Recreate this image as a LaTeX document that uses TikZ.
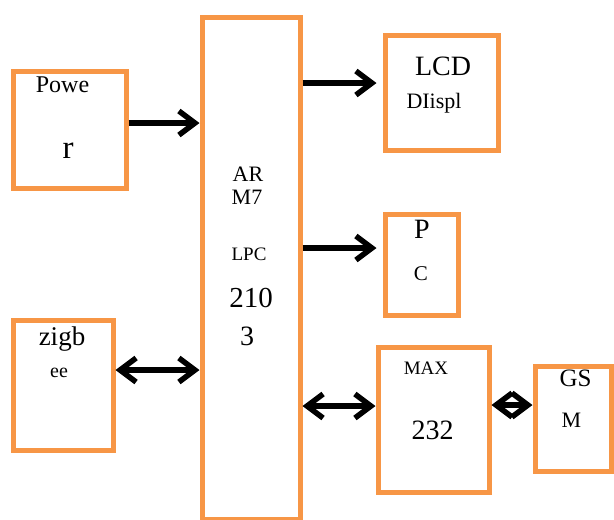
\documentclass[tikz,border=0pt]{standalone}
\usepackage{fontspec}
\setmainfont{Liberation Serif}
\usepackage{tikz}
\usetikzlibrary{arrows.meta, positioning, calc}
\definecolor{boxorange}{HTML}{F79646}
\newcommand{\fs}[1]{\fontsize{#1}{#1}\selectfont}

\begin{document}
\begin{tikzpicture}[
    x=1pt, y=-1pt,
    block/.style={rectangle, draw=boxorange, line width=5pt, inner sep=0pt},
    lbl/.style={anchor=base, inner sep=0pt},
    barb/.tip={Straight Barb[length=16pt, width=24pt]},
    arrow/.style={-barb, line width=5.5pt},
    darrow/.style={barb-barb, line width=5.5pt},
]
\useasboundingbox (0,0) rectangle (614,520);

\node[block, minimum width=113pt, minimum height=117pt] (power) at (69.5,129.5) {};
\node[block, minimum width=98pt, minimum height=502pt] (arm) at (251,268) {};
\node[block, minimum width=113pt, minimum height=115pt] (lcd) at (441.5,92.5) {};
\node[block, minimum width=73pt, minimum height=101pt] (pc) at (421.5,264.5) {};
\node[block, minimum width=100pt, minimum height=130pt] (zigbee) at (63,385) {};
\node[block, minimum width=111pt, minimum height=145pt] (max) at (433.5,419.5) {};
\node[block, minimum width=76pt, minimum height=105pt] (gsm) at (573,418.5) {};

\node[lbl, font=\fs{24}] (powe) at (62.5,92) {Powe};
\node[lbl, font=\fs{33}] (powr) at (68,158) {r};
\node[lbl, font=\fs{28}] (lcdtop) at (443,75) {LCD};
\node[lbl, font=\fs{22}] (lcdbot) at (434,108) {DIispl};
\node[lbl, font=\fs{22}] (arma) at (248,181) {AR};
\node[lbl, font=\fs{22}] (armb) at (247,204) {M7};
\node[lbl, font=\fs{19}] (armc) at (249,260) {LPC};
\node[lbl, font=\fs{29}] (armd) at (251,307) {210};
\node[lbl, font=\fs{28}] (arme) at (247,345) {3};
\node[lbl, font=\fs{28}] (pctop) at (422,238) {P};
\node[lbl, font=\fs{21}] (pcbot) at (421,280) {C};
\node[lbl, font=\fs{27}] (zigtop) at (62,345) {zigb};
\node[lbl, font=\fs{20}] (zigbot) at (59,377) {ee};
\node[lbl, font=\fs{19}] (maxtop) at (426,374) {MAX};
\node[lbl, font=\fs{28}] (maxbot) at (432.5,439) {232};
\node[lbl, font=\fs{25}] (gsmtop) at (575.5,386) {GS};
\node[lbl, font=\fs{22}] (gsmbot) at (571.5,427) {M};

\coordinate (pw) at ([yshift=6.5pt]power.east);
\coordinate (ld) at ([yshift=9.5pt]lcd.west);
\coordinate (pcin) at ([yshift=16.5pt]pc.west);
\coordinate (zb) at ([yshift=15pt]zigbee.east);
\coordinate (mx) at ([yshift=13.5pt]max.west);
\coordinate (gs) at ([yshift=14.5pt]max.east);

\draw[arrow] (pw) -- (pw -| arm.west);
\draw[arrow, shorten >=6pt] (ld -| arm.east) -- (ld);
\draw[arrow, shorten >=6pt] (pcin -| arm.east) -- (pcin);
\draw[darrow] (zb) -- (zb -| arm.west);
\draw[darrow] (mx -| arm.east) -- (mx);
\draw[darrow] (gs) -- (gs -| gsm.west);

\end{tikzpicture}
\end{document}
